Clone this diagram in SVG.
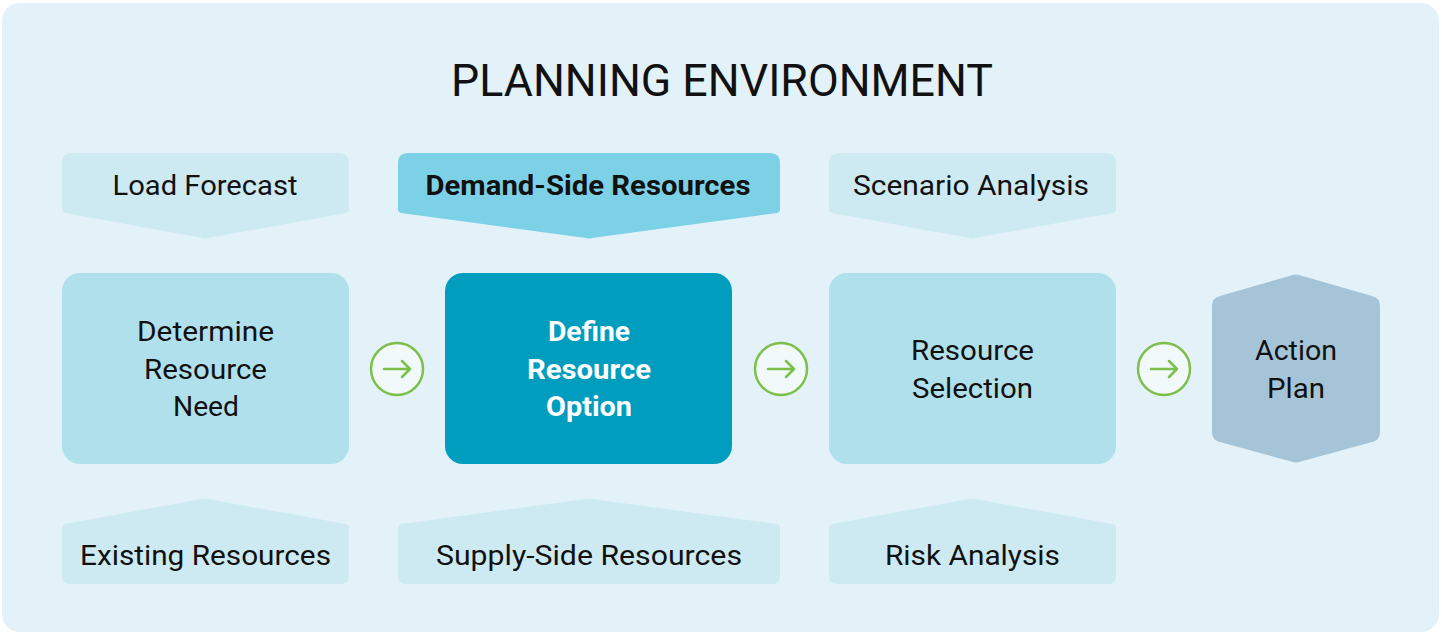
<svg xmlns="http://www.w3.org/2000/svg" width="1442" height="634" viewBox="0 0 1442 634">
<style>
.t{font-family:Roboto,"Noto Sans","Liberation Sans",sans-serif;font-size:27px;fill:#111;text-anchor:middle}
.b{font-weight:bold}
.w{fill:#ffffff}
.title{font-family:Roboto,"Noto Sans","Liberation Sans",sans-serif;font-size:44px;fill:#111;text-anchor:middle}
.lite{fill:#cdeaf3}
.mid{fill:#b1e0ed}
.circ{fill:#f2f9fb;stroke:#7cbf4a;stroke-width:2.5}
.arr{fill:none;stroke:#7cbf4a;stroke-width:2.5;stroke-linecap:round;stroke-linejoin:round}
</style>
<rect x="0" y="0" width="1442" height="634" fill="#ffffff"/>
<rect x="2" y="3" width="1437" height="629" rx="18" fill="#e2f2f8"/>
<text class="title" x="722" y="96" textLength="542" lengthAdjust="spacingAndGlyphs">PLANNING ENVIRONMENT</text>

<g id="load-forecast">
<path class="lite" d="M62,163 Q62,153 72,153 H339 Q349,153 349,163 V210 Q349,212 346,213 L208,238 Q205,239 202,238 L65,213 Q62,212 62,210 Z"/>
<text class="t" x="205" y="195" textLength="185" lengthAdjust="spacingAndGlyphs">Load Forecast</text>
</g>
<g id="demand-side">
<path fill="#7dd1e7" d="M398,163 Q398,153 408,153 H770 Q780,153 780,163 V210 Q780,212 777,213 L592,238 Q589,239 586,238 L401,213 Q398,212 398,210 Z"/>
<text class="t b" x="588" y="195" textLength="325" lengthAdjust="spacingAndGlyphs">Demand-Side Resources</text>
</g>
<g id="scenario-analysis">
<path class="lite" d="M829,163 Q829,153 839,153 H1106 Q1116,153 1116,163 V210 Q1116,212 1113,213 L975,238 Q972,239 969,238 L832,213 Q829,212 829,210 Z"/>
<text class="t" x="971" y="195" textLength="236" lengthAdjust="spacingAndGlyphs">Scenario Analysis</text>
</g>

<g id="determine-need">
<rect class="mid" x="62" y="273" width="287" height="191" rx="18"/>
<text class="t" x="205.500" y="341" textLength="137" lengthAdjust="spacingAndGlyphs">Determine</text>
<text class="t" x="205.500" y="379" textLength="123" lengthAdjust="spacingAndGlyphs">Resource</text>
<text class="t" x="206" y="416" textLength="66" lengthAdjust="spacingAndGlyphs">Need</text>
</g>
<g id="define-option">
<rect fill="#009dbf" x="445" y="273" width="287" height="191" rx="18"/>
<text class="t b w" x="589" y="341" textLength="82" lengthAdjust="spacingAndGlyphs">Define</text>
<text class="t b w" x="589" y="379" textLength="124" lengthAdjust="spacingAndGlyphs">Resource</text>
<text class="t b w" x="589" y="416" textLength="86" lengthAdjust="spacingAndGlyphs">Option</text>
</g>
<g id="resource-selection">
<rect class="mid" x="829" y="273" width="287" height="191" rx="18"/>
<text class="t" x="972.500" y="360" textLength="123" lengthAdjust="spacingAndGlyphs">Resource</text>
<text class="t" x="972.500" y="398" textLength="121" lengthAdjust="spacingAndGlyphs">Selection</text>
</g>
<g id="action-plan">
<path fill="#a5c4d8" d="M1293,275 Q1296,274 1299,275 L1372,296 Q1380,298 1380,306 V432 Q1380,440 1372,442 L1299,462 Q1296,463 1293,462 L1220,442 Q1212,440 1212,432 V306 Q1212,298 1220,296 Z"/>
<text class="t" x="1296" y="360" textLength="82" lengthAdjust="spacingAndGlyphs">Action</text>
<text class="t" x="1296" y="398" textLength="58" lengthAdjust="spacingAndGlyphs">Plan</text>
</g>

<g id="existing-resources">
<path class="lite" d="M62,528 Q62,525 65,524 L202,499 Q205,498 208,499 L346,524 Q349,525 349,528 V576 Q349,584 341,584 H70 Q62,584 62,576 Z"/>
<text class="t" x="205.500" y="565" textLength="251" lengthAdjust="spacingAndGlyphs">Existing Resources</text>
</g>
<g id="supply-side">
<path class="lite" d="M398,528 Q398,525 401,524 L586,499 Q589,498 592,499 L777,524 Q780,525 780,528 V576 Q780,584 772,584 H406 Q398,584 398,576 Z"/>
<text class="t" x="589" y="565" textLength="306" lengthAdjust="spacingAndGlyphs">Supply-Side Resources</text>
</g>
<g id="risk-analysis">
<path class="lite" d="M829,528 Q829,525 832,524 L969,499 Q972,498 975,499 L1113,524 Q1116,525 1116,528 V576 Q1116,584 1108,584 H837 Q829,584 829,576 Z"/>
<text class="t" x="972.500" y="565" textLength="175" lengthAdjust="spacingAndGlyphs">Risk Analysis</text>
</g>

<g id="connectors">
<circle class="circ" cx="397" cy="369" r="26"/>
<path class="arr" d="M384,369 H410 M402,361 L410,369 L402,377"/>
<circle class="circ" cx="781" cy="369" r="26"/>
<path class="arr" d="M768,369 H794 M786,361 L794,369 L786,377"/>
<circle class="circ" cx="1164" cy="369" r="26"/>
<path class="arr" d="M1151,369 H1177 M1169,361 L1177,369 L1169,377"/>
</g>
</svg>
